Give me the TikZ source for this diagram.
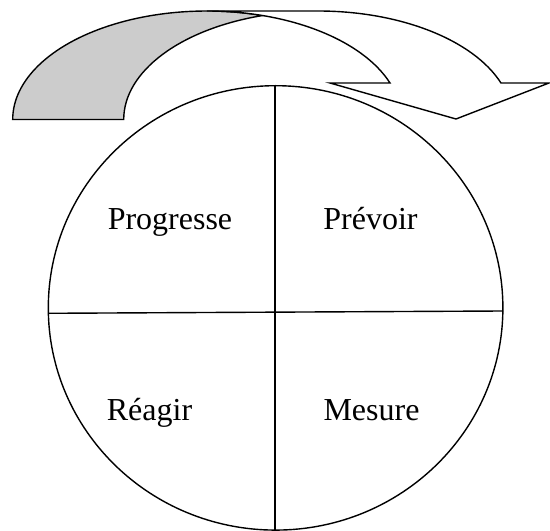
\documentclass[tikz,border=0pt]{standalone}
\usepackage{fontspec}
\setmainfont{Liberation Serif}
\definecolor{backgrey}{RGB}{204,204,204}
\begin{document}
\begin{tikzpicture}[x=1pt,y=1pt,
  outline/.style={draw=black,line width=1.4pt,line join=miter},
  label/.style={font=\fontsize{32}{38}\selectfont,anchor=base,inner sep=0pt}]
\useasboundingbox (0,0) rectangle (550,531);
% back (grey) part of the curved arrow
\path[outline,fill=backgrey] (12.7,411.5)
  arc[start angle=180,end angle=73.4,x radius=194.3,y radius=108.5]
  arc[start angle=106.6,end angle=180,x radius=194.3,y radius=108.5] -- cycle;
% front (white) part with the arrow head
\path[outline,fill=white] (207,520) -- (318,520)
  arc[start angle=90,end angle=19.66,x radius=194.3,y radius=108.5]
  -- (549,448) -- (456,412) -- (330,448) -- (390,448)
  arc[start angle=19.66,end angle=90,x radius=194.3,y radius=108.5] -- cycle;
% circle and its quarters
\draw[outline] (275.6,223.1) ellipse[x radius=227.3,y radius=222.2];
\coordinate (top) at (275,445.3);
\coordinate (bottom) at (275,1);
\coordinate (left) at (48.3,217.7);
\coordinate (right) at (503,220);
\draw[outline] (top) -- (bottom);
\draw[outline] (left) -- (right);
\node[label] (progresse) at (170,301.5) {Progresse};
\node[label] (prevoir) at (370.5,301.5) {Prévoir};
\node[label] (reagir) at (149.5,110.5) {Réagir};
\node[label] (mesure) at (371.5,110.5) {Mesure};
\end{tikzpicture}
\end{document}
